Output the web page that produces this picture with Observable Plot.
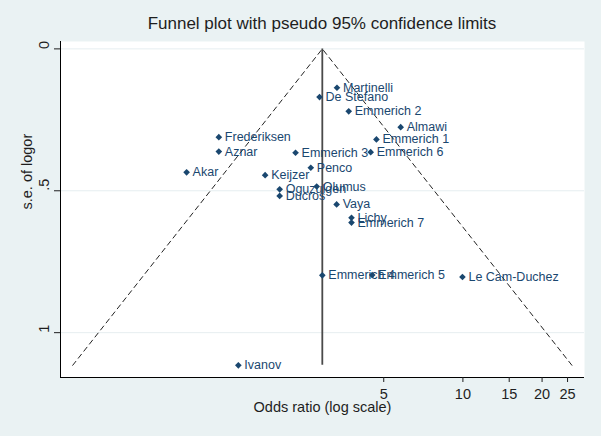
<!DOCTYPE html>
<html>
<head>
<meta charset="utf-8">
<script src="https://cdn.jsdelivr.net/npm/d3@7"></script>
<script src="https://cdn.jsdelivr.net/npm/@observablehq/plot@0.6"></script>
<style>
  html, body { margin: 0; padding: 0; background: #eaf2f3; }
  body { width: 601px; height: 436px; overflow: hidden; font-family: "Liberation Sans", Arial, sans-serif; }
  #title { height: 36px; box-sizing: border-box; padding-top: 15px; padding-left: 43px; line-height: 18px;
           text-align: center; font-size: 17px; color: #1e1e1e; }
  svg { display: block; }
</style>
</head>
<body>
<div id="title">Funnel plot with pseudo 95% confidence limits</div>
<div id="chart"></div>
<script>
const studies = ["Martinelli","De Stefano","Emmerich 2","Almawi","Frederiksen","Emmerich 1","Aznar","Emmerich 3","Emmerich 6","Penco","Akar","Keijzer","Olumus","Oguzulgen","Ducros","Vaya","Lichy","Emmerich 7","Emmerich 4","Emmerich 5","Le Cam-Duchez","Ivanov"];
const oddsRatios = [3.32, 2.85, 3.68, 5.80, 1.18, 4.69, 1.18, 2.31, 4.46, 2.64, 0.89, 1.77, 2.78, 2.01, 2.01, 3.31, 3.77, 3.77, 2.92, 4.52, 9.96, 1.40];
const stdErrors = [0.137, 0.170, 0.220, 0.276, 0.311, 0.319, 0.362, 0.366, 0.364, 0.419, 0.435, 0.445, 0.485, 0.495, 0.518, 0.548, 0.595, 0.612, 0.798, 0.797, 0.804, 1.115];
const pooledOR = 2.92;
const xTicks = [5, 10, 15, 20, 25];
const yTicks = [0, 0.5, 1];
const yTickLabels = ["0", ".5", "1"];
const xDomain = [0.295, 29.0];
const yDomain = [-0.026, 1.158];

const data = studies.map((s, i) => ({study: s, or: oddsRatios[i], se: stdErrors[i]}));
const maxSe = d3.max(stdErrors);
const funnel = [
  {or: pooledOR * Math.exp(-1.96 * maxSe), se: maxSe},
  {or: pooledOR, se: 0},
  {or: pooledOR * Math.exp(1.96 * maxSe), se: maxSe}
];

const navy = "#1a476f";
const plot = Plot.plot({
  width: 601,
  height: 400,
  marginLeft: 60,
  marginRight: 17,
  marginTop: 5,
  marginBottom: 59,
  style: {background: "transparent", fontFamily: "Liberation Sans, Arial, sans-serif", color: "#1e1e1e"},
  x: {type: "log", domain: xDomain},
  y: {domain: yDomain, reverse: true},
  marks: [
    Plot.frame({fill: "white", stroke: null}),
    Plot.gridY({ticks: yTicks, stroke: "#e6eef0", strokeOpacity: 1}),
    Plot.line(funnel, {x: "or", y: "se", stroke: "#222", strokeWidth: 1, strokeDasharray: "5,4"}),
    Plot.ruleX([pooledOR], {y1: 0, y2: maxSe, stroke: "#4a4a4a", strokeWidth: 1.8}),
    Plot.dot(data, {x: "or", y: "se", symbol: "diamond2", r: 3, fill: navy, stroke: null}),
    Plot.text(data, {x: "or", y: "se", text: "study", textAnchor: "start", dx: 6, fill: navy, fontSize: 12.5}),
    Plot.ruleX([xDomain[0]], {stroke: "#000", strokeWidth: 1}),
    Plot.ruleY([yDomain[1]], {stroke: "#000", strokeWidth: 1}),
    Plot.axisX({ticks: xTicks, tickFormat: d => String(d), tickSize: 5, tickPadding: 6, fontSize: 14.5, label: null}),
    Plot.axisY({ticks: yTicks, tickFormat: () => "", tickSize: 6, label: null}),
    Plot.text(yTicks, {y: d => d, text: (d, i) => yTickLabels[i], frameAnchor: "left", dx: -16, rotate: -90, fontSize: 14.5, fill: "#1e1e1e"}),
    Plot.text(["s.e. of logor"], {frameAnchor: "left", dx: -33, rotate: -90, fontSize: 14.5, fill: "#1e1e1e"}),
    Plot.text(["Odds ratio (log scale)"], {frameAnchor: "bottom", dy: 34, fontSize: 14.5, fill: "#1e1e1e"})
  ]
});
document.getElementById("chart").appendChild(plot);
</script>
</body>
</html>
